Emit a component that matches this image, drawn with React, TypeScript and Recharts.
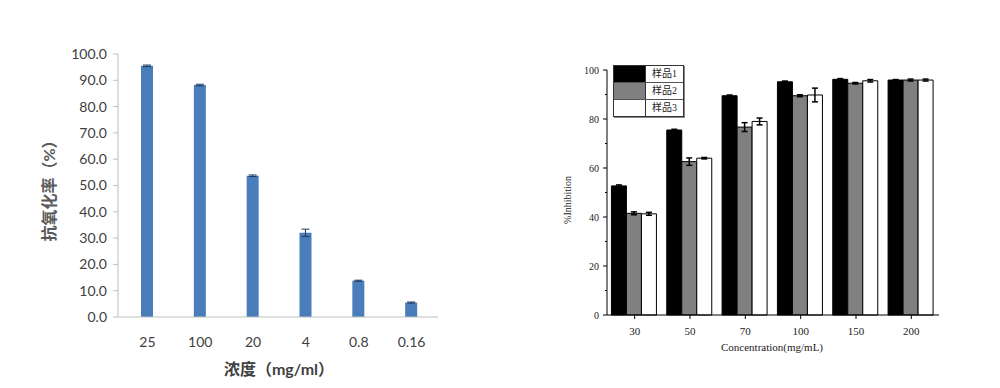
import React from 'react';
import { BarChart, Bar, XAxis, YAxis, ErrorBar, Legend, Label } from 'recharts';

// left chart: antioxidant rate by concentration
const concLabels = ['25', '100', '20', '4', '0.8', '0.16'];
const antioxRates = [95.5, 88.2, 53.7, 32.0, 13.8, 5.5];
const antioxErrors = [0.3, 0.3, 0.3, 1.4, 0.2, 0.2];
const leftTicks = [0, 10, 20, 30, 40, 50, 60, 70, 80, 90, 100];

// right chart: inhibition of three samples
const concentrations = ['30', '50', '70', '100', '150', '200'];
const sampleNames = ['样品1', '样品2', '样品3'];
const sample1 = [52.7, 75.5, 89.5, 95.2, 96.2, 95.9];
const sample2 = [41.5, 62.6, 76.7, 89.5, 94.6, 95.9];
const sample3 = [41.3, 64.0, 79.0, 89.8, 95.6, 95.9];
const sample1Err = [0.4, 0.3, 0.3, 0.3, 0.3, 0.2];
const sample2Err = [0.6, 1.5, 1.8, 0.4, 0.3, 0.4];
const sample3Err = [0.6, 0.3, 1.4, 2.8, 0.5, 0.4];
const rightTicks = [0, 10, 20, 30, 40, 50, 60, 70, 80, 90, 100];

const sampleColors = ['#000000', '#808080', '#ffffff'];

const leftData = concLabels.map((c, i) => ({ conc: c, rate: antioxRates[i], err: antioxErrors[i] }));
const rightData = concentrations.map((c, i) => ({
  conc: c,
  s1: sample1[i],
  s2: sample2[i],
  s3: sample3[i],
  e1: sample1Err[i],
  e2: sample2Err[i],
  e3: sample3Err[i],
}));

const sansFont = 'Lato, "Noto Sans CJK SC", sans-serif';
const serifFont = '"Liberation Serif", "Noto Sans CJK SC", serif';

const RightYTick = (props: any) => {
  const { x, y, payload } = props;
  const major = payload.value % 20 === 0;
  return (
    <g>
      <line x1={x - (major ? 4 : 2)} x2={x} y1={y} y2={y} stroke="#000" />
      {major && (
        <text x={x - 8} y={y} textAnchor="end" dominantBaseline="central" fontSize={10} fontFamily={serifFont} fill="#222">
          {payload.value}
        </text>
      )}
    </g>
  );
};

const SampleLegend = (props: any) => {
  const payload = props.payload || [];
  return (
    <div style={{ display: 'inline-block', border: '1px solid #333', background: '#fff', boxShadow: '1px 1px 0 #888' }}>
      {payload.map((entry: any, i: number) => (
        <div key={i} style={{ display: 'flex', alignItems: 'center', height: 16, borderTop: i ? '1px solid #555' : 'none' }}>
          <div style={{ width: 32, height: '100%', background: sampleColors[i], borderRight: '1px solid #333', boxSizing: 'border-box' }} />
          <span style={{ fontFamily: serifFont, fontSize: 10, padding: '0 6px 0 6px', color: '#222', lineHeight: '16px' }}>
            {entry.value}
          </span>
        </div>
      ))}
    </div>
  );
};

export default function App() {
  return (
    <div style={{ position: 'absolute', left: 0, top: 0, width: 1000, height: 388, background: '#fff' }}>
      <div style={{ position: 'absolute', left: 0, top: 0 }}>
        <BarChart width={460} height={388} data={leftData} margin={{ top: 54, right: 22, bottom: 0, left: 0 }}>
          <XAxis
            dataKey="conc"
            height={71}
            padding={{ left: 3, right: 0 }}
            axisLine={{ stroke: '#bfbfbf' }}
            tickLine={false}
            tickMargin={14}
            tick={{ fill: '#404040', fontSize: 14, fontFamily: sansFont }}
          >
            <Label
              content={() => (
                <text x={279} y={368} textAnchor="middle" dominantBaseline="central" fontSize={16} fontWeight="bold" fontFamily={sansFont} fill="#404040">
                  浓度（mg/ml）
                </text>
              )}
            />
          </XAxis>
          <YAxis
            width={118}
            domain={[0, 100]}
            ticks={leftTicks}
            interval={0}
            tickFormatter={(v: number) => v.toFixed(1)}
            axisLine={{ stroke: '#bfbfbf' }}
            tickLine={{ stroke: '#bfbfbf' }}
            tickSize={5}
            tickMargin={6}
            tick={{ fill: '#404040', fontSize: 14, fontFamily: sansFont }}
          >
            <Label
              content={() => (
                <text x={48} y={187} transform="rotate(-90 48 187)" textAnchor="middle" dominantBaseline="central" fontSize={16} fontWeight="bold" fontFamily={sansFont} fill="#595959">
                  抗氧化率（%）
                </text>
              )}
            />
          </YAxis>
          <Bar dataKey="rate" fill="#4a7ebb" barSize={12} isAnimationActive={false}>
            <ErrorBar dataKey="err" width={4} stroke="#1f3a60" strokeWidth={1} />
          </Bar>
        </BarChart>
      </div>

      <div style={{ position: 'absolute', left: 540, top: 0 }}>
        <BarChart
          width={420}
          height={388}
          data={rightData}
          margin={{ top: 70, right: 21, bottom: 0, left: 0 }}
          barCategoryGap="8%"
          barGap={0}
        >
          <XAxis
            dataKey="conc"
            height={73}
            axisLine={{ stroke: '#000' }}
            tickLine={{ stroke: '#000' }}
            tickSize={4}
            tickMargin={8}
            tick={{ fill: '#222', fontSize: 11, fontFamily: serifFont }}
          >
            <Label
              content={() => (
                <text x={232} y={347} textAnchor="middle" dominantBaseline="central" fontSize={11} fontFamily={serifFont} fill="#222">
                  Concentration(mg/mL)
                </text>
              )}
            />
          </XAxis>
          <YAxis
            width={67}
            domain={[0, 100]}
            ticks={rightTicks}
            interval={0}
            axisLine={{ stroke: '#000' }}
            tickLine={false}
            tickSize={0}
            tickMargin={0}
            tick={<RightYTick />}
          >
            <Label
              content={() => (
                <text x={27} y={200} transform="rotate(-90 27 200)" textAnchor="middle" dominantBaseline="central" fontSize={10} fontFamily={serifFont} fill="#222">
                  %Inhibition
                </text>
              )}
            />
          </YAxis>
          <Legend
            layout="vertical"
            verticalAlign="middle"
            align="center"
            content={<SampleLegend />}
            wrapperStyle={{ left: 73, top: 65, width: 'auto', height: 'auto' }}
          />
          <Bar dataKey="s1" name={sampleNames[0]} fill={sampleColors[0]} stroke="#000" strokeWidth={1} isAnimationActive={false}>
            <ErrorBar dataKey="e1" width={3} stroke="#000" />
          </Bar>
          <Bar dataKey="s2" name={sampleNames[1]} fill={sampleColors[1]} stroke="#000" strokeWidth={1} isAnimationActive={false}>
            <ErrorBar dataKey="e2" width={3} stroke="#000" />
          </Bar>
          <Bar dataKey="s3" name={sampleNames[2]} fill={sampleColors[2]} stroke="#000" strokeWidth={1} isAnimationActive={false}>
            <ErrorBar dataKey="e3" width={3} stroke="#000" />
          </Bar>
        </BarChart>
      </div>
    </div>
  );
}
